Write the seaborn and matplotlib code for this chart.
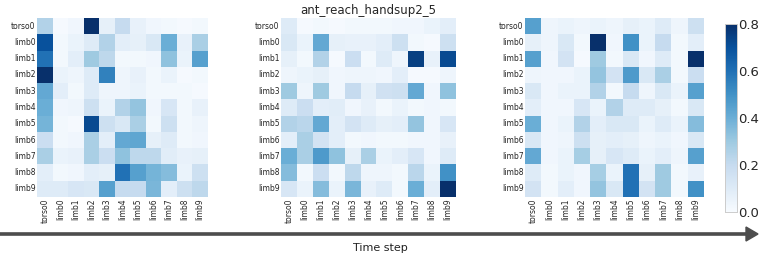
import numpy as np
import pandas as pd
import matplotlib
matplotlib.use("Agg")
import matplotlib.pyplot as plt
import seaborn as sns

# nodes of the ant morphology
labels = ["torso0"] + [f"limb{i}" for i in range(10)]
title = "ant_reach_handsup2_5"

# attention at three time steps (rows attend to cols)
step_a = [
    [0.25, 0.01, 0.03, 0.80, 0.07, 0.20, 0.06, 0.03, 0.02, 0.01, 0.02],
    [0.70, 0.02, 0.05, 0.10, 0.25, 0.08, 0.07, 0.12, 0.40, 0.06, 0.27],
    [0.60, 0.02, 0.08, 0.30, 0.22, 0.02, 0.02, 0.03, 0.33, 0.05, 0.45],
    [0.80, 0.05, 0.04, 0.10, 0.55, 0.04, 0.06, 0.02, 0.05, 0.01, 0.02],
    [0.42, 0.08, 0.02, 0.10, 0.04, 0.04, 0.05, 0.02, 0.02, 0.02, 0.01],
    [0.40, 0.03, 0.04, 0.17, 0.05, 0.25, 0.32, 0.03, 0.13, 0.02, 0.06],
    [0.38, 0.02, 0.01, 0.72, 0.17, 0.12, 0.27, 0.02, 0.17, 0.02, 0.04],
    [0.18, 0.02, 0.03, 0.27, 0.08, 0.42, 0.43, 0.07, 0.10, 0.02, 0.03],
    [0.27, 0.05, 0.06, 0.27, 0.18, 0.33, 0.22, 0.22, 0.09, 0.06, 0.07],
    [0.08, 0.02, 0.03, 0.08, 0.07, 0.60, 0.45, 0.38, 0.35, 0.05, 0.17],
    [0.10, 0.10, 0.13, 0.12, 0.45, 0.20, 0.20, 0.37, 0.08, 0.17, 0.22],
]
step_b = [
    [0.10, 0.01, 0.02, 0.01, 0.02, 0.02, 0.02, 0.03, 0.03, 0.05, 0.08],
    [0.12, 0.05, 0.42, 0.07, 0.06, 0.06, 0.08, 0.17, 0.02, 0.01, 0.17],
    [0.07, 0.02, 0.25, 0.01, 0.18, 0.02, 0.10, 0.04, 0.75, 0.06, 0.72],
    [0.04, 0.05, 0.07, 0.03, 0.04, 0.04, 0.03, 0.08, 0.01, 0.01, 0.04],
    [0.30, 0.04, 0.30, 0.03, 0.20, 0.07, 0.16, 0.17, 0.42, 0.03, 0.33],
    [0.10, 0.18, 0.08, 0.09, 0.03, 0.06, 0.02, 0.05, 0.02, 0.03, 0.02],
    [0.25, 0.23, 0.42, 0.08, 0.15, 0.10, 0.07, 0.08, 0.32, 0.03, 0.13],
    [0.08, 0.27, 0.15, 0.08, 0.02, 0.03, 0.02, 0.02, 0.03, 0.03, 0.06],
    [0.40, 0.27, 0.47, 0.33, 0.07, 0.27, 0.05, 0.08, 0.13, 0.03, 0.10],
    [0.35, 0.02, 0.18, 0.02, 0.22, 0.04, 0.04, 0.02, 0.23, 0.05, 0.50],
    [0.13, 0.05, 0.35, 0.05, 0.37, 0.06, 0.10, 0.02, 0.40, 0.08, 0.82],
]
step_c = [
    [0.45, 0.04, 0.05, 0.04, 0.05, 0.04, 0.07, 0.05, 0.10, 0.04, 0.17],
    [0.07, 0.04, 0.12, 0.02, 0.80, 0.03, 0.50, 0.05, 0.20, 0.02, 0.08],
    [0.45, 0.03, 0.15, 0.01, 0.30, 0.02, 0.12, 0.03, 0.10, 0.02, 0.82],
    [0.04, 0.03, 0.03, 0.05, 0.32, 0.15, 0.47, 0.12, 0.27, 0.02, 0.18],
    [0.12, 0.03, 0.05, 0.05, 0.25, 0.02, 0.20, 0.04, 0.12, 0.05, 0.45],
    [0.08, 0.03, 0.03, 0.13, 0.05, 0.25, 0.10, 0.10, 0.07, 0.02, 0.12],
    [0.40, 0.03, 0.05, 0.25, 0.08, 0.12, 0.12, 0.05, 0.10, 0.05, 0.35],
    [0.12, 0.03, 0.04, 0.17, 0.07, 0.08, 0.07, 0.04, 0.05, 0.03, 0.12],
    [0.42, 0.03, 0.05, 0.28, 0.07, 0.13, 0.10, 0.05, 0.08, 0.04, 0.45],
    [0.10, 0.02, 0.05, 0.03, 0.28, 0.05, 0.60, 0.07, 0.30, 0.02, 0.06],
    [0.15, 0.02, 0.08, 0.03, 0.32, 0.12, 0.60, 0.15, 0.30, 0.02, 0.50],
]

sns.set_style("white")
plt.rcParams["font.family"] = ["DejaVu Sans"]

W, H = 761, 256
fig = plt.figure(figsize=(W / 100, H / 100), dpi=100)

def px_axes(x0, y0, x1, y1):
    # pixel box (top-left origin) -> figure axes
    return fig.add_axes([x0 / W, 1 - y1 / H, (x1 - x0) / W, (y1 - y0) / H])

boxes = [(37, 18, 208, 197), (281, 18, 456, 197), (525, 18, 704, 197)]
cax = px_axes(725, 24, 737, 212)

for i, (mat, box) in enumerate(zip([step_a, step_b, step_c], boxes)):
    ax = px_axes(*box)
    df = pd.DataFrame(mat, index=labels, columns=labels)
    sns.heatmap(df, ax=ax, cmap="Blues", vmin=0, vmax=0.8,
                cbar=(i == 2), cbar_ax=cax if i == 2 else None)
    ax.tick_params(length=0, labelsize=5.5, pad=1)
    ax.set_xticklabels(labels, rotation=90)
    ax.set_yticklabels(labels, rotation=0)
    if i == 1:
        ax.set_title(title, fontsize=8.5, pad=3)

cax.tick_params(length=0, labelsize=9.5, pad=1)
cax.set_yticks([0, 0.2, 0.4, 0.6, 0.8])
cax.set_yticklabels(["0.0", "0.2", "0.4", "0.6", "0.8"])
for sp in cax.spines.values():
    sp.set_visible(True)
    sp.set_color("#cccccc")
    sp.set_linewidth(0.6)

# time axis arrow below the panels
fig.patches.append(matplotlib.patches.FancyArrow(
    0 / W, 1 - 234 / H, 758 / W, 0, width=2.2 / H, head_width=14 / H,
    head_length=12 / W, length_includes_head=True, color="#4d4d4d",
    transform=fig.transFigure, figure=fig))
fig.text(380 / W, 1 - 248 / H, "Time step", ha="center", va="center",
         fontsize=8, color="#222222")

fig.savefig("out.png", dpi=100)
